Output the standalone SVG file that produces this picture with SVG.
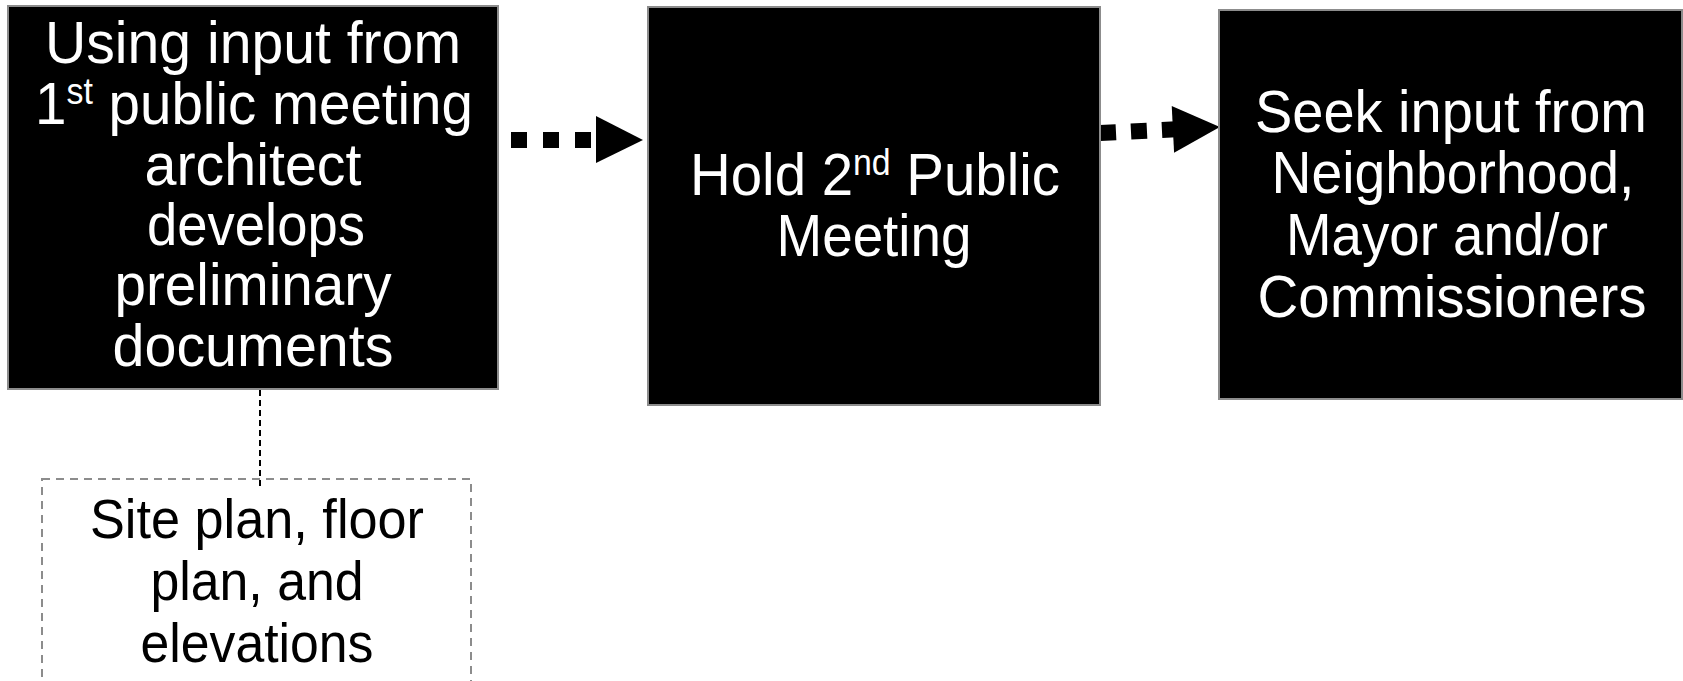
<svg xmlns="http://www.w3.org/2000/svg" width="1683" height="681" viewBox="0 0 1683 681">
<style>
.box{fill:#000;stroke:#8c8c8c;stroke-width:2}
.t{font-family:"Liberation Sans",Arial,sans-serif;font-size:60px;fill:#fff;text-anchor:middle}
.d{font-family:"Liberation Sans",Arial,sans-serif;font-size:56px;fill:#000;text-anchor:middle}
.sup{font-size:36px}
.dash{fill:none;stroke:#000;stroke-width:16;stroke-dasharray:16 16}
</style>
<rect width="1683" height="681" fill="#fff"/>
<g id="connectors">
  <line x1="260" y1="390" x2="260" y2="488" stroke="#000" stroke-width="2" stroke-dasharray="6 4"/>
  <line class="dash" x1="511" y1="140" x2="597" y2="140"/>
  <polygon points="596,116 643,140 596,163" fill="#000"/>
  <g transform="translate(1100,133) rotate(-2.86)">
    <line class="dash" x1="0" y1="0" x2="76" y2="0" style="stroke-dasharray:16 15"/>
    <polygon points="73,-23.5 120,0 73,23.5" fill="#000"/>
  </g>
</g>
<g id="node1">
  <rect class="box" x="8" y="6" width="490" height="383"/>
  <text class="t" x="253" y="63" textLength="416" lengthAdjust="spacingAndGlyphs">Using input from</text>
  <text class="t" x="254" y="124" textLength="438" lengthAdjust="spacingAndGlyphs">1<tspan class="sup" dy="-20">st</tspan><tspan dy="20"> public meeting</tspan></text>
  <text class="t" x="253" y="185" textLength="217" lengthAdjust="spacingAndGlyphs">architect</text>
  <text class="t" x="256" y="245" textLength="218" lengthAdjust="spacingAndGlyphs">develops</text>
  <text class="t" x="253" y="305" textLength="277" lengthAdjust="spacingAndGlyphs">preliminary</text>
  <text class="t" x="253" y="366" textLength="281" lengthAdjust="spacingAndGlyphs">documents</text>
</g>
<g id="node2">
  <rect class="box" x="648" y="7" width="452" height="398"/>
  <text class="t" x="875" y="195" textLength="370" lengthAdjust="spacingAndGlyphs">Hold 2<tspan class="sup" dy="-20">nd</tspan><tspan dy="20"> Public</tspan></text>
  <text class="t" x="874" y="256" textLength="195" lengthAdjust="spacingAndGlyphs">Meeting</text>
</g>
<g id="node3">
  <rect class="box" x="1219" y="10" width="463" height="389"/>
  <text class="t" x="1451" y="132" textLength="392" lengthAdjust="spacingAndGlyphs">Seek input from</text>
  <text class="t" x="1453" y="193" textLength="363" lengthAdjust="spacingAndGlyphs">Neighborhood,</text>
  <text class="t" x="1447" y="255" textLength="322" lengthAdjust="spacingAndGlyphs">Mayor and/or</text>
  <text class="t" x="1452" y="317" textLength="389" lengthAdjust="spacingAndGlyphs">Commissioners</text>
</g>
<g id="node4">
  <rect x="42" y="479" width="429" height="230" fill="none" stroke="#8c8c8c" stroke-width="2" stroke-dasharray="8 6"/>
  <text class="d" x="257" y="538" textLength="334" lengthAdjust="spacingAndGlyphs">Site plan, floor</text>
  <text class="d" x="257" y="600" textLength="213" lengthAdjust="spacingAndGlyphs">plan, and</text>
  <text class="d" x="257" y="662" textLength="233" lengthAdjust="spacingAndGlyphs">elevations</text>
</g>
</svg>
